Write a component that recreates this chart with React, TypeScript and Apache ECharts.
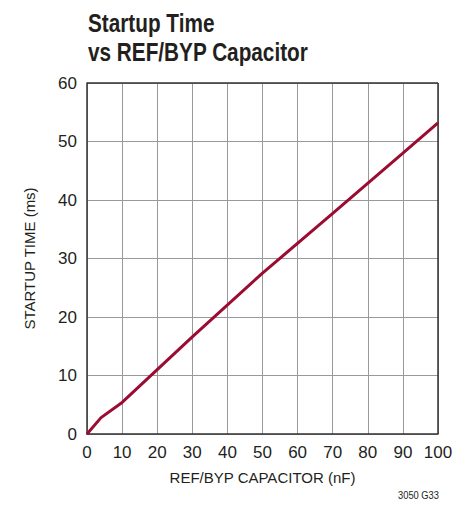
import React, { useEffect, useRef } from "react";
import * as echarts from "echarts";

const capacitance = [0, 4, 10, 30, 50, 70, 90, 100];
const startupTime = [0, 2.8, 5.4, 16.6, 27.5, 37.7, 48.0, 53.2];
const titleLines = ["Startup Time", "vs REF/BYP Capacitor"];
const xName = "REF/BYP CAPACITOR (nF)";
const yName = "STARTUP TIME (ms)";
const footnote = "3050 G33";

export default function App() {
  const ref = useRef<HTMLDivElement>(null);
  useEffect(() => {
    const chart = echarts.init(ref.current!, undefined, { renderer: "svg" });
    const textColor = "#231f20";
    chart.setOption({
      animation: false,
      backgroundColor: "#fff",
      grid: { left: 87, top: 83, width: 351, height: 351, show: false },
      graphic: [
        {
          type: "text",
          x: 88,
          y: 9,
          scaleX: 0.83,
          style: {
            text: titleLines.join("\n"),
            font: 'bold 25px "Liberation Sans", Arial, sans-serif',
            lineHeight: 29,
            fill: textColor,
            textVerticalAlign: "top",
          },
        },
        {
          type: "text",
          x: 398,
          y: 490,
          scaleX: 0.85,
          style: {
            text: footnote,
            font: '11px "Liberation Sans", Arial, sans-serif',
            fill: textColor,
            textVerticalAlign: "top",
          },
        },
      ],
      xAxis: {
        type: "value",
        min: 0,
        max: 100,
        interval: 10,
        name: xName,
        nameLocation: "middle",
        nameGap: 36,
        nameTextStyle: { color: textColor, fontSize: 15, fontFamily: "Liberation Sans" },
        axisLine: { show: true, lineStyle: { color: "#333", width: 1.5 } },
        axisTick: { show: false },
        axisLabel: { color: textColor, fontSize: 17, fontFamily: "Liberation Sans", margin: 10 },
        splitLine: { show: true, lineStyle: { color: "#999", width: 1 } },
      },
      yAxis: {
        type: "value",
        min: 0,
        max: 60,
        interval: 10,
        name: yName,
        nameLocation: "middle",
        nameGap: 50,
        nameRotate: 90,
        nameTextStyle: { color: textColor, fontSize: 15, fontFamily: "Liberation Sans" },
        axisLine: { show: true, lineStyle: { color: "#333", width: 1.5 } },
        axisTick: { show: false },
        axisLabel: { color: textColor, fontSize: 17, fontFamily: "Liberation Sans", margin: 10 },
        splitLine: { show: true, lineStyle: { color: "#999", width: 1 } },
      },
      series: [
        {
          type: "line",
          data: capacitance.map((c, i) => [c, startupTime[i]]),
          showSymbol: false,
          lineStyle: { color: "#9b0b32", width: 3 },
          z: 5,
        },
        {
          type: "line",
          data: [],
          markLine: {
            silent: true,
            symbol: "none",
            label: { show: false },
            lineStyle: { color: "#333", width: 1.5, type: "solid" },
            data: [
              [{ coord: [0, 60] }, { coord: [100, 60] }],
              [{ coord: [100, 0] }, { coord: [100, 60] }],
            ],
          },
        },
      ],
    });
    return () => chart.dispose();
  }, []);
  return (
    <div
      ref={ref}
      style={{ position: "fixed", left: 0, top: 0, width: 469, height: 516 }}
    />
  );
}
